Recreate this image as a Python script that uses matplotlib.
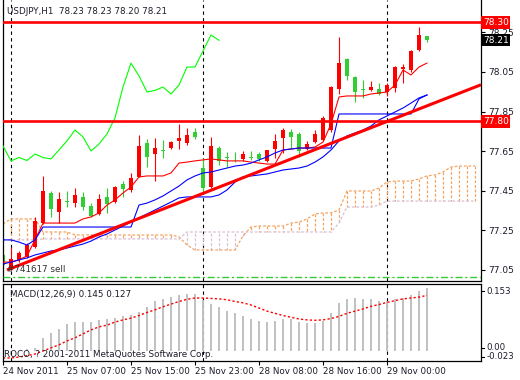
import numpy as np
import matplotlib

matplotlib.use("Agg")
import matplotlib.pyplot as plt
from matplotlib.transforms import blended_transform_factory

plt.rcParams["font.family"] = ["DejaVu Sans"]

# USDJPY H1, one value per bar (24 Nov 23:00 ... 29 Nov 05:00)
opens = [77.126, 77.060, 77.101, 77.116, 77.166, 77.287, 77.439, 77.343, 77.395, 77.388,
         77.419, 77.373, 77.333, 77.419, 77.393, 77.484, 77.454, 77.520, 77.691, 77.636,
         77.656, 77.666, 77.702, 77.691, 77.747, 77.565, 77.469, 77.666, 77.621, 77.606,
         77.611, 77.621, 77.636, 77.601, 77.661, 77.717, 77.747, 77.737, 77.661, 77.696,
         77.707, 77.757, 77.964, 78.116, 78.025, 77.959, 77.959, 77.964, 77.949, 77.969,
         78.065, 78.060, 78.161, 78.230]
highs = [77.136, 77.166, 77.146, 77.186, 77.318, 77.525, 77.449, 77.444, 77.449, 77.464,
         77.444, 77.388, 77.434, 77.464, 77.474, 77.499, 77.540, 77.732, 77.712, 77.717,
         77.707, 77.702, 77.787, 77.767, 77.767, 77.616, 77.722, 77.676, 77.646, 77.646,
         77.651, 77.651, 77.646, 77.656, 77.737, 77.767, 77.762, 77.747, 77.702, 77.757,
         77.828, 77.979, 78.227, 78.121, 78.030, 78.010, 78.005, 77.994, 77.994, 78.080,
         78.090, 78.161, 78.277, 78.230]
lows = [77.065, 77.050, 77.090, 77.111, 77.161, 77.282, 77.318, 77.287, 77.368, 77.368,
        77.353, 77.318, 77.328, 77.338, 77.388, 77.419, 77.444, 77.520, 77.570, 77.499,
        77.616, 77.661, 77.661, 77.681, 77.712, 77.444, 77.464, 77.580, 77.570, 77.595,
        77.601, 77.606, 77.601, 77.595, 77.616, 77.641, 77.666, 77.621, 77.656, 77.691,
        77.702, 77.747, 77.939, 78.010, 77.898, 77.919, 77.954, 77.934, 77.929, 77.949,
        77.994, 78.050, 78.156, 78.200]
closes = [77.075, 77.106, 77.136, 77.176, 77.297, 77.449, 77.358, 77.409, 77.392, 77.429,
          77.368, 77.323, 77.409, 77.383, 77.469, 77.459, 77.515, 77.676, 77.621, 77.666,
          77.653, 77.696, 77.717, 77.732, 77.722, 77.464, 77.676, 77.601, 77.618, 77.603,
          77.636, 77.618, 77.611, 77.656, 77.702, 77.757, 77.722, 77.651, 77.686, 77.737,
          77.818, 77.974, 78.095, 78.030, 77.949, 77.957, 77.974, 77.939, 77.984, 78.075,
          78.075, 78.156, 78.237, 78.210]

# indicator lines
tenkan = [77.090, 77.090, 77.101, 77.121, 77.202, 77.287, 77.287, 77.287, 77.287, 77.287,
          77.308, 77.318, 77.338, 77.378, 77.404, 77.439, 77.469, 77.520, 77.525, 77.525,
          77.525, 77.540, 77.590, 77.595, 77.601, 77.606, 77.611, 77.606, 77.601, 77.601,
          77.601, 77.595, 77.590, 77.585, 77.585, 77.656, 77.661, 77.666, 77.666, 77.671,
          77.696, 77.787, 77.924, 77.929, 77.929, 77.929, 77.939, 77.944, 77.949, 77.984,
          78.060, 78.035, 78.075, 78.095]
kijun = [77.202, 77.202, 77.191, 77.176, 77.202, 77.267, 77.267, 77.267, 77.267, 77.267,
         77.267, 77.267, 77.267, 77.267, 77.267, 77.267, 77.267, 77.378, 77.388, 77.404,
         77.424, 77.449, 77.474, 77.505, 77.525, 77.540, 77.545, 77.555, 77.565, 77.575,
         77.580, 77.590, 77.606, 77.621, 77.641, 77.656, 77.661, 77.666, 77.666, 77.666,
         77.666, 77.666, 77.838, 77.838, 77.838, 77.838, 77.838, 77.838, 77.838, 77.838,
         77.838, 77.838, 77.914, 77.934]
blue_ma = [77.080, 77.090, 77.101, 77.111, 77.126, 77.136, 77.146, 77.151, 77.161, 77.171,
           77.181, 77.196, 77.217, 77.232, 77.252, 77.272, 77.292, 77.313, 77.333, 77.353,
           77.373, 77.393, 77.414, 77.419, 77.419, 77.419, 77.419, 77.429, 77.454, 77.494,
           77.520, 77.525, 77.530, 77.535, 77.545, 77.555, 77.560, 77.565, 77.575, 77.595,
           77.621, 77.656, 77.702, 77.727, 77.742, 77.757, 77.777, 77.808, 77.828, 77.848,
           77.868, 77.893, 77.919, 77.934]
chikou = [77.676, 77.601, 77.618, 77.603, 77.636, 77.618, 77.611, 77.656, 77.702, 77.757,
          77.722, 77.651, 77.686, 77.737, 77.818, 77.974, 78.095, 78.030, 77.949, 77.957,
          77.974, 77.939, 77.984, 78.075, 78.075, 78.156, 78.237, 78.210]
span_a = [77.282, 77.308, 77.308, 77.308, 77.308, 77.242, 77.242, 77.242, 77.242, 77.227,
          77.227, 77.227, 77.227, 77.227, 77.227, 77.227, 77.227, 77.227, 77.227, 77.227,
          77.227, 77.227, 77.217, 77.176, 77.151, 77.151, 77.151, 77.151, 77.151, 77.151,
          77.222, 77.267, 77.272, 77.272, 77.272, 77.272, 77.287, 77.292, 77.308, 77.333,
          77.338, 77.338, 77.353, 77.449, 77.449, 77.449, 77.449, 77.464, 77.494, 77.499,
          77.499, 77.499, 77.510, 77.525, 77.530, 77.545, 77.570, 77.575, 77.575, 77.575]
span_b = [77.202, 77.202, 77.202, 77.202, 77.202, 77.207, 77.207, 77.207, 77.207, 77.207,
          77.207, 77.207, 77.207, 77.207, 77.207, 77.207, 77.207, 77.207, 77.207, 77.207,
          77.207, 77.207, 77.207, 77.242, 77.242, 77.242, 77.242, 77.242, 77.242, 77.242,
          77.242, 77.242, 77.242, 77.242, 77.242, 77.242, 77.242, 77.242, 77.242, 77.242,
          77.242, 77.242, 77.287, 77.368, 77.368, 77.368, 77.368, 77.378, 77.398, 77.398,
          77.398, 77.398, 77.398, 77.398, 77.398, 77.398, 77.398, 77.398, 77.398, 77.398]

macd_hist = [-0.003, -0.002, 0.001, 0.005, 0.007, 0.029, 0.041, 0.050, 0.061, 0.066,
             0.067, 0.067, 0.070, 0.072, 0.075, 0.079, 0.083, 0.089, 0.101, 0.115,
             0.119, 0.124, 0.128, 0.130, 0.130, 0.117, 0.107, 0.101, 0.091, 0.086,
             0.080, 0.072, 0.069, 0.067, 0.069, 0.073, 0.073, 0.067, 0.065, 0.065,
             0.069, 0.086, 0.109, 0.119, 0.120, 0.119, 0.119, 0.114, 0.114, 0.118,
             0.120, 0.128, 0.136, 0.145]
macd_signal = [-0.016, -0.016, -0.014, -0.011, -0.007, 0.000, 0.007, 0.014, 0.023, 0.030,
               0.039, 0.048, 0.055, 0.059, 0.066, 0.071, 0.075, 0.081, 0.088, 0.094,
               0.101, 0.107, 0.113, 0.118, 0.121, 0.121, 0.120, 0.119, 0.117, 0.113,
               0.110, 0.105, 0.098, 0.091, 0.086, 0.081, 0.077, 0.073, 0.071, 0.070,
               0.071, 0.074, 0.079, 0.086, 0.091, 0.096, 0.102, 0.106, 0.111, 0.115,
               0.119, 0.121, 0.123, 0.127]

tick_bars = [0, 8, 16, 24, 32, 40, 48]
tick_labels = ["24 Nov 2011", "25 Nov 07:00", "25 Nov 15:00", "25 Nov 23:00",
               "28 Nov 08:00", "28 Nov 16:00", "29 Nov 00:00"]
day_breaks = [1, 25, 48]
price_ticks = [77.05, 77.25, 77.45, 77.65, 77.85, 78.05, 78.25]

hlines = [78.30, 77.80]
trend_bars = [0.5, 48.0]
trend_prices = [77.05, 77.80]
order_price = 77.016
order_label = "#741617 sell"

RED = "#ff0000"
GREEN = "#32cd32"
TXT = "#1c1c2c"

W, H = 520, 380
fig = plt.figure(figsize=(W / 100, H / 100), dpi=100)
ax = fig.add_axes([2.5 / W, (H - 281) / H, 478.5 / W, 281 / H])
ax2 = fig.add_axes([2.5 / W, (H - 361) / H, 478.5 / W, 77 / H])

x = np.arange(len(closes))
o, hi, lo, c = (np.array(v) for v in (opens, highs, lows, closes))
xlim = (-0.0625, 59.75)

# day separators
for a in (ax, ax2):
    for b in day_breaks:
        a.axvline(b, color="black", lw=0.8, ls=(0, (3, 3)), zorder=0.5)

# ichimoku cloud, hatched with vertical dashes
xc = np.arange(len(span_a))
sa, sb = np.array(span_a), np.array(span_b)
hatch_col = np.where(sa >= sb, "#f4a460", "#d8bfd8")
ax.vlines(xc, sa, sb, colors=hatch_col, lw=0.9, linestyles=(0, (2.2, 1.5)), zorder=1)
ax.plot(xc, sa, color="#f4a460", lw=0.9, ls=(0, (2.2, 1.5)), zorder=1)
ax.plot(xc, sb, color="#d8bfd8", lw=0.9, ls=(0, (2.2, 1.5)), zorder=1)

# candles (red = rising, green = falling)
up = c >= o
col = np.where(up, RED, GREEN)
ax.vlines(x, lo, hi, colors=col, lw=0.8, zorder=2)
body = np.maximum(np.abs(c - o), 0.005)
ax.bar(x, body, bottom=np.minimum(o, c), width=0.62, color=col, lw=0, zorder=2)

# indicator lines
ax.plot(x, tenkan, color=RED, lw=0.8, zorder=3)
ax.plot(x, kijun, color="#0000ff", lw=0.8, zorder=3)
ax.plot(x, blue_ma, color="#0000ff", lw=0.8, zorder=3)
ax.plot(x[:len(chikou)], chikou, color="#00ff00", lw=0.8, zorder=3)

# objects: trend line (ray to the right), horizontal levels, order line
slope = (trend_prices[1] - trend_prices[0]) / (trend_bars[1] - trend_bars[0])
ax.plot([trend_bars[0], xlim[1]],
        [trend_prices[0], trend_prices[0] + slope * (xlim[1] - trend_bars[0])],
        color=RED, lw=2.2, solid_capstyle="butt", zorder=4)
for p in hlines:
    ax.axhline(p, color=RED, lw=1.9, zorder=4)
ax.axhline(order_price, color="#32cd32", lw=1.0, ls=(0, (5, 2, 1.5, 2)), zorder=4)
ax.text(0.55, order_price + 0.012, order_label, fontsize=6.3, color="#303030",
        va="bottom", ha="left", zorder=5)

ax.set_xlim(*xlim)
ax.set_ylim(76.9944, 78.4136)
ax.set_xticks([])
ax.yaxis.tick_right()
ax.set_yticks(price_ticks)
ax.set_yticklabels([f"{p:.2f}" for p in price_ticks])
ax.tick_params(axis="y", length=3, width=0.8, pad=2, labelsize=6.5, labelcolor=TXT)
ax.spines["top"].set_visible(False)
for s in ("left", "right", "bottom"):
    ax.spines[s].set_linewidth(0.9)

# price tags on the scale
tr = blended_transform_factory(ax.transAxes, ax.transData)
for p in hlines:
    ax.text(1.004, p, f"{p:.2f}", transform=tr, fontsize=6.5, color="white",
            va="center", ha="left", clip_on=False, zorder=6,
            bbox=dict(boxstyle="square,pad=0.18", fc=RED, ec="none"))
ax.text(1.004, closes[-1], f"{closes[-1]:.2f}", transform=tr, fontsize=6.5,
        color="white", va="center", ha="left", clip_on=False, zorder=6,
        bbox=dict(boxstyle="square,pad=0.18", fc="black", ec="none"))

fig.text(7 / W, 1 - 11 / H,
         f"USDJPY,H1  {opens[-1]:.2f} {highs[-1]:.2f} {lows[-1]:.2f} {closes[-1]:.2f}",
         fontsize=6.3, color=TXT, va="center", ha="left")

# MACD panel
ax2.vlines(x, 0, macd_hist, colors="#c0c0c0", lw=1.4, zorder=1)
ax2.plot(x, macd_signal, color=RED, lw=1.0, ls=(0, (1.6, 1.6)), zorder=2)
ax2.set_xlim(*xlim)
ax2.set_ylim(-0.023, 0.153)
ax2.set_yticks([])
for s in ax2.spines.values():
    s.set_linewidth(0.9)
ax2.text(7 / 478.5, 0.87,
         f"MACD(12,26,9) {macd_hist[-1]:.3f} {macd_signal[-1]:.3f}",
         transform=ax2.transAxes, fontsize=6.3, color=TXT, va="center", ha="left")
ax2.text(0.003, 0.085, "ROCO, ? 2001-2011 MetaQuotes Software Corp.",
         transform=ax2.transAxes, fontsize=6.3, color=TXT, va="center", ha="left")
for lab, fy in (("0.153", 0.909), ("0.00", 0.17), ("-0.023", 0.055)):
    ax2.plot([1, 1.007], [fy, fy], transform=ax2.transAxes, color="black",
             lw=0.8, clip_on=False)
    ax2.text(1.012, fy, lab, transform=ax2.transAxes, fontsize=6.2, color=TXT,
             va="center", ha="left", clip_on=False)

ax2.set_xticks(tick_bars)
ax2.set_xticklabels(tick_labels)
ax2.tick_params(axis="x", length=3, width=0.8, pad=1.5, labelsize=6.3, labelcolor=TXT)
for t in ax2.get_xticklabels():
    t.set_ha("left")

fig.savefig("out.png", dpi=100)
plt.close(fig)
